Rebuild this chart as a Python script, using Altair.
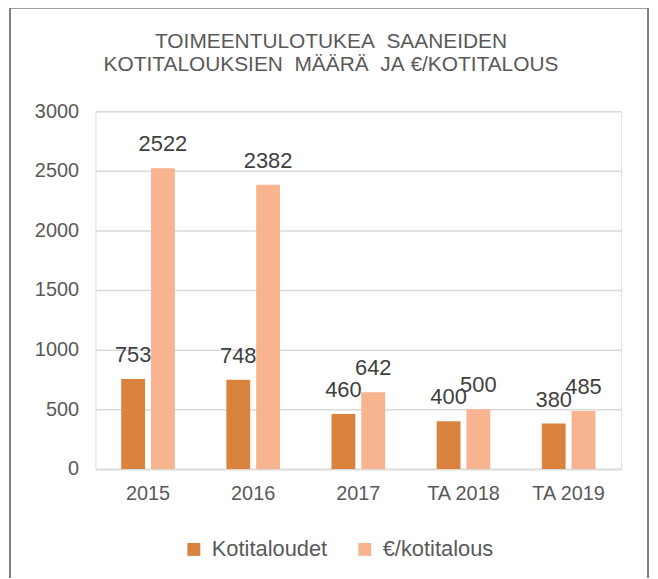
import altair as alt
import pandas as pd

categories = ["2015", "2016", "2017", "TA 2018", "TA 2019"]
series_names = ["Kotitaloudet", "€/kotitalous"]
kotitaloudet = [753, 748, 460, 400, 380]
eur_per_kotitalous = [2522, 2382, 642, 500, 485]
y_ticks = [0, 500, 1000, 1500, 2000, 2500, 3000]
title_lines = ["TOIMEENTULOTUKEA\u00a0\u00a0SAANEIDEN",
               "KOTITALOUKSIEN\u00a0\u00a0MÄÄRÄ\u00a0\u00a0JA\u00a0€/KOTITALOUS"]
colors = ["#D9833F", "#F8B48E"]

rows = []
for c, a, b in zip(categories, kotitaloudet, eur_per_kotitalous):
    rows.append({"cat": c, "series": series_names[0], "value": a})
    rows.append({"cat": c, "series": series_names[1], "value": b})
df = pd.DataFrame(rows)

FONT = "Liberation Sans, Arial, sans-serif"
NARROW = "Liberation Sans Narrow, Arial Narrow, Liberation Sans, sans-serif"

x_enc = alt.X("cat:N", sort=categories, title=None,
              scale=alt.Scale(paddingInner=0.49, paddingOuter=0.245),
              axis=alt.Axis(labelAngle=0, labelFont=FONT, labelFontSize=20, labelColor="#595959",
                            labelPadding=15, ticks=False, domainColor="#d9d9d9", domainWidth=1.5))
xoff = alt.XOffset("series:N", sort=series_names,
                   scale=alt.Scale(paddingInner=0.2, paddingOuter=0))
y_enc = alt.Y("value:Q", title=None,
              scale=alt.Scale(domain=[0, 3000], nice=False),
              axis=alt.Axis(values=y_ticks, format="d", labelFont=FONT, labelFontSize=20,
                            labelColor="#595959", labelPadding=17, ticks=False, domain=False,
                            gridColor="#d9d9d9", gridWidth=1.5))

base = alt.Chart(df).encode(x=x_enc, xOffset=xoff, y=y_enc)

bars = base.mark_bar().encode(
    color=alt.Color("series:N", sort=series_names,
                    scale=alt.Scale(domain=series_names, range=colors),
                    legend=alt.Legend(title=None, orient="none", direction="horizontal",
                                      legendX=88, legendY=430, symbolType="square",
                                      symbolSize=169, symbolStrokeWidth=0,
                                      labelFont=FONT, labelFontSize=22, labelColor="#595959",
                                      labelOffset=7, columnPadding=26, padding=0))
)

labels = base.mark_text(baseline="alphabetic", align="center", dy=-17,
                        font=FONT, fontSize=22, color="#404040").encode(text="value:Q")

one = pd.DataFrame({"k": [0]})
border = alt.Chart(one).mark_rect(
    fill=None, stroke="#7f7f7f", strokeWidth=2, clip=False
).encode(x=alt.value(-86), x2=alt.value(556), y=alt.value(-104), y2=alt.value(500))

title = alt.Chart(one).mark_text(
    text=title_lines, font=NARROW, fontSize=21, color="#595959", align="center",
    baseline="alphabetic", lineHeight=24, clip=False
).encode(x=alt.value(237), y=alt.value(-64))

chart = alt.layer(bars, labels, border, title).properties(
    width=529, height=360,
    autosize=alt.AutoSizeParams(type="none"),
    padding={"left": 88, "top": 102, "right": 29, "bottom": 108},
).configure_view(stroke=None).configure(background="white")

chart.save("out.html", embed_options={"renderer": "svg", "actions": False})
